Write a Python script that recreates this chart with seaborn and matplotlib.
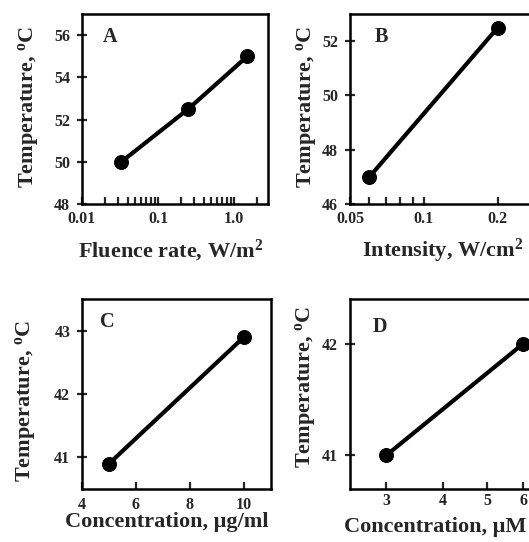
import matplotlib
matplotlib.use("Agg")
import matplotlib.pyplot as plt
import matplotlib.ticker as mticker
import seaborn as sns
import pandas as pd

# ---- data ----
a_x = [0.033, 0.25, 1.5]
a_y = [50.0, 52.5, 55.0]
b_x = [0.06, 0.2]
b_y = [47.0, 52.5]
c_x = [5, 10]
c_y = [40.9, 42.9]
d_x = [3, 6]
d_y = [41.0, 42.0]

a_xticks = [0.01, 0.1, 1.0]
a_xticklabels = ["0.01", "0.1", "1.0"]
b_xticks = [0.05, 0.1, 0.2]
b_xticklabels = ["0.05", "0.1", "0.2"]
c_xticks = [4, 6, 8, 10]
d_xticks = [3, 4, 5, 6]
a_yticks = [48, 50, 52, 54, 56]
b_yticks = [46, 48, 50, 52]
c_yticks = [41, 42, 43]
d_yticks = [41, 42]

xlabels = ["Fluence rate, W/m$^{\\mathbf{2}}$", "Intensity, W/cm$^{\\mathbf{2}}$",
           "Concentration, \u03bcg/ml", "Concentration, \u03bcM"]
ylabel = "Temperature, $^{\\mathbf{o}}$C"
letters = ["A", "B", "C", "D"]

sns.set_style("ticks")
plt.rcParams["font.family"] = ["Liberation Serif", "DejaVu Serif"]
plt.rcParams["font.weight"] = "bold"
plt.rcParams["mathtext.fontset"] = "custom"
plt.rcParams["mathtext.rm"] = "Liberation Serif:bold"
plt.rcParams["mathtext.bf"] = "Liberation Serif:bold"
plt.rcParams["mathtext.it"] = "Liberation Serif:bold"

W, H = 529, 542
fig = plt.figure(figsize=(W / 100, H / 100), dpi=100)

def add_ax(left, top, right, bottom):
    return fig.add_axes([left / W, 1 - bottom / H, (right - left) / W, (bottom - top) / H])

axA = add_ax(82, 14, 268, 204)
axB = add_ax(350, 14, 541, 204)
axC = add_ax(82, 299, 271, 489)
axD = add_ax(350, 299, 539, 489)

# (ax, x, y, scale, xlim, ylim, xticks, xticklabels, yticks, letter pos, xtick pad, xlabel pos, ylabel pos)
specs = [
    (axA, a_x, a_y, "log", (0.01, 2.8), (48, 57), a_xticks, a_xticklabels, a_yticks,
     (0.11, 0.93), 5, (0.478, -0.283), (-0.29, 0.51)),
    (axB, b_x, b_y, "log", (0.05, 0.3), (46, 53), b_xticks, b_xticklabels, b_yticks,
     (0.13, 0.93), 5, (0.487, -0.28), (-0.23, 0.51)),
    (axC, c_x, c_y, "linear", (4, 11), (40.5, 43.5), c_xticks, [str(v) for v in c_xticks], c_yticks,
     (0.097, 0.93), 6, (0.45, -0.20), (-0.30, 0.463)),
    (axD, d_x, d_y, "log", (2.5, 6.5), (40.7, 42.4), d_xticks, [str(v) for v in d_xticks], d_yticks,
     (0.12, 0.905), 3, (0.45, -0.226), (-0.233, 0.537)),
]

for i, (ax, xs, ys, scale, xl, yl, xt, xtl, yt, lpos, xpad, xlpos, ylpos) in enumerate(specs):
    df = pd.DataFrame({"x": xs, "y": ys})
    ax.set_xscale(scale)
    sns.lineplot(data=df, x="x", y="y", ax=ax, color="black", linewidth=3.0,
                 marker="o", markersize=10, markeredgecolor="black",
                 markerfacecolor="black", sort=False)
    ax.set_xlim(*xl)
    ax.set_ylim(*yl)
    ax.xaxis.set_major_locator(mticker.FixedLocator(xt))
    ax.xaxis.set_major_formatter(mticker.FixedFormatter(xtl))
    if i == 0:
        ax.xaxis.set_minor_locator(mticker.LogLocator(base=10, subs=range(2, 10)))
        ax.xaxis.set_minor_formatter(mticker.NullFormatter())
    elif i == 1:
        ax.xaxis.set_minor_locator(mticker.FixedLocator([0.06, 0.07, 0.08, 0.09]))
        ax.xaxis.set_minor_formatter(mticker.NullFormatter())
    else:
        ax.xaxis.set_minor_locator(mticker.NullLocator())
    ax.yaxis.set_major_locator(mticker.FixedLocator(yt))
    ax.yaxis.set_minor_locator(mticker.NullLocator())
    ax.tick_params(axis="x", which="both", direction="in", length=5, width=1.6,
                   labelsize=11.5, pad=xpad)
    ax.tick_params(axis="y", which="major", direction="inout", length=7, width=1.6,
                   labelsize=11.5, pad=5)
    for lab in ax.get_xticklabels() + ax.get_yticklabels():
        lab.set_fontweight("bold")
    for sp in ax.spines.values():
        sp.set_linewidth(1.8)
        sp.set_color("black")
    ax.set_xlabel(xlabels[i], fontsize=16, fontweight="bold")
    ax.set_ylabel(ylabel, fontsize=16, fontweight="bold")
    ax.xaxis.set_label_coords(*xlpos)
    ax.xaxis.label.set_verticalalignment("baseline")
    ax.yaxis.set_label_coords(*ylpos)
    ax.yaxis.label.set_verticalalignment("center")
    ax.text(lpos[0], lpos[1], letters[i], transform=ax.transAxes, ha="left", va="top",
            fontsize=14.5, fontweight="bold")

fig.savefig("out.png", dpi=100)
